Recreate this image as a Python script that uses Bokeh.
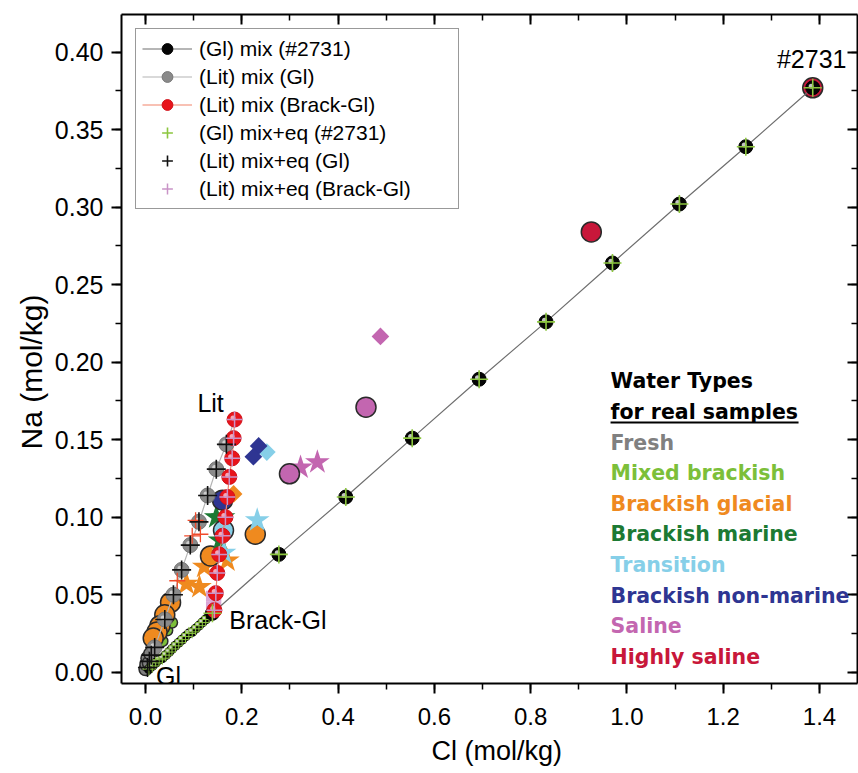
import math
from bokeh.plotting import figure
from bokeh.models import (Range1d, LinearAxis, SingleIntervalTicker, NumeralTickFormatter,
                          Legend, LegendItem, Label, Title)
from bokeh.embed import file_html
from bokeh.resources import INLINE

# ---------------- model mixing lines ----------------
# glacial end-member and sample #2731
gl_end = [0.001, 0.001]
s2731 = [1.386, 0.377]

# (Gl) mix (#2731): fine steps near Gl, then 10 % steps up to #2731
gl_fine_cl = [0.007, 0.014, 0.021, 0.028, 0.035, 0.042, 0.049, 0.055, 0.062, 0.069,
              0.076, 0.083, 0.090, 0.097, 0.104, 0.111, 0.118, 0.125, 0.132]
gl_fine_na = [0.002, 0.004, 0.006, 0.008, 0.009, 0.011, 0.013, 0.015, 0.017, 0.019,
              0.021, 0.023, 0.025, 0.026, 0.028, 0.030, 0.032, 0.034, 0.036]
gl_mix_cl = [0.139, 0.277, 0.416, 0.554, 0.693, 0.832, 0.970, 1.109, 1.247, 1.386]
gl_mix_na = [0.038, 0.076, 0.113, 0.151, 0.189, 0.226, 0.264, 0.302, 0.339, 0.377]
# (Gl) mix+eq (#2731)
gl_eq_fine_cl = [0.007, 0.014, 0.021, 0.028, 0.035, 0.042, 0.049, 0.055, 0.062, 0.069,
                 0.076, 0.083, 0.090, 0.097, 0.104, 0.111, 0.118, 0.125, 0.132]
gl_eq_fine_na = [0.002, 0.004, 0.006, 0.008, 0.009, 0.011, 0.013, 0.015, 0.017, 0.019,
                 0.021, 0.023, 0.025, 0.026, 0.028, 0.030, 0.032, 0.034, 0.036]
gl_eq_cl = [0.139, 0.277, 0.416, 0.554, 0.693, 0.832, 0.970, 1.109, 1.247, 1.386]
gl_eq_na = [0.038, 0.076, 0.113, 0.151, 0.189, 0.226, 0.264, 0.302, 0.339, 0.377]

# Littorina end-member
lit_end = [0.185, 0.163]
# (Lit) mix (Gl)
lit_gl_cl = [0.019, 0.040, 0.058, 0.075, 0.093, 0.111, 0.129, 0.147, 0.168]
lit_gl_na = [0.016, 0.034, 0.050, 0.066, 0.082, 0.097, 0.114, 0.131, 0.147]
# (Lit) mix+eq (Gl)
lit_gl_eq_cl = [0.004, 0.008, 0.012, 0.019, 0.040, 0.058, 0.075, 0.093, 0.111, 0.129, 0.147, 0.168]
lit_gl_eq_na = [0.003, 0.007, 0.011, 0.016, 0.034, 0.050, 0.066, 0.082, 0.097, 0.114, 0.131, 0.147]

# (Lit) mix (Brack-Gl), from Lit down to the brackish glacial end-member
lit_bg_cl = [0.185, 0.183, 0.180, 0.174, 0.170, 0.166, 0.160, 0.153, 0.149, 0.146, 0.143]
lit_bg_na = [0.163, 0.151, 0.138, 0.126, 0.113, 0.100, 0.088, 0.076, 0.064, 0.051, 0.040]
# (Lit) mix+eq (Brack-Gl)
lit_bg_eq_cl = [0.185, 0.183, 0.180, 0.174, 0.170, 0.166, 0.160, 0.153, 0.149, 0.146, 0.143]
lit_bg_eq_na = [0.163, 0.151, 0.138, 0.126, 0.113, 0.100, 0.088, 0.076, 0.064, 0.051, 0.040]
# a few orange-red equilibrium points off the Lit lines
red_eq_cl = [0.104, 0.114, 0.097, 0.066]
red_eq_na = [0.098, 0.089, 0.088, 0.059]

# ---------------- real samples by water type ----------------
fresh_cl = [0.000, 0.002, 0.004, 0.007, 0.010]
fresh_na = [0.002, 0.005, 0.009, 0.006, 0.012]

mixed_cl = [0.035, 0.045, 0.055]
mixed_na = [0.020, 0.027, 0.032]

bglac_circle_cl = [0.228, 0.135, 0.052, 0.040, 0.030, 0.024, 0.016]
bglac_circle_na = [0.089, 0.075, 0.045, 0.037, 0.030, 0.026, 0.022]
bglac_star_cl = [0.085, 0.112, 0.122, 0.170]
bglac_star_na = [0.057, 0.055, 0.068, 0.072]
bglac_diam_cl = [0.183]
bglac_diam_na = [0.115]

bmar_star_cl = [0.147, 0.161, 0.155]
bmar_star_na = [0.100, 0.100, 0.085]

trans_circle_cl = [0.162]
trans_circle_na = [0.0915]
trans_star_cl = [0.232, 0.163]
trans_star_na = [0.098, 0.077]
trans_diam_cl = [0.252]
trans_diam_na = [0.142]

bnm_diam_cl = [0.235, 0.224]
bnm_diam_na = [0.146, 0.139]
bnm_circle_cl = [0.160]
bnm_circle_na = [0.111]

sal_circle_cl = [0.299, 0.458]
sal_circle_na = [0.128, 0.171]
sal_star_cl = [0.322, 0.357]
sal_star_na = [0.132, 0.1355]
sal_diam_cl = [0.488]
sal_diam_na = [0.2166]
sal_sq_cl = [0.137, 0.146, 0.137, 0.146]
sal_sq_na = [0.049, 0.049, 0.042, 0.042]

hsal_cl = [0.926, 1.386]
hsal_na = [0.284, 0.377]

water_types = ["Fresh", "Mixed brackish", "Brackish glacial", "Brackish marine",
               "Transition", "Brackish non-marine", "Saline", "Highly saline"]
water_colors = ["#808080", "#7cbf3a", "#ef8a1f", "#1c7a33",
                "#86cfe8", "#2e3592", "#c366b0", "#c8173a"]

# ---------------- figure ----------------
W, H = 858, 773
BL, BR, BT, BB = 121, 1, 14, 90
X0, X1 = -0.0499, 1.479
Y0, Y1 = -0.0073, 0.4243
px_x = (W - BL - BR) / (X1 - X0)
px_y = (H - BT - BB) / (Y1 - Y0)

FONT = "Liberation Sans"

p = figure(width=W, height=H, x_range=Range1d(X0, X1), y_range=Range1d(Y0, Y1),
           output_backend="svg", toolbar_location=None,
           min_border_left=BL, min_border_right=BR, min_border_top=BT, min_border_bottom=BB)
p.outline_line_color = None
p.grid.visible = False
p.background_fill_color = "white"
p.border_fill_color = "white"

xt = SingleIntervalTicker(interval=0.2, num_minor_ticks=2)
yt = SingleIntervalTicker(interval=0.05, num_minor_ticks=2)


def style_axis(ax, inner):
    ax.axis_line_width = 2
    ax.axis_line_color = "black"
    ax.major_tick_line_width = 2
    ax.minor_tick_line_width = 1.5
    ax.major_tick_line_color = "black"
    ax.minor_tick_line_color = "black"
    if inner:
        # mirrored frame: ticks only, pointing into the plot
        ax.major_tick_in, ax.major_tick_out = 10, 0
        ax.minor_tick_in, ax.minor_tick_out = 6, 0
        ax.major_label_text_font_size = "1px"
        ax.major_label_text_color = None
        ax.major_label_standoff = 0
    else:
        ax.major_tick_in, ax.major_tick_out = 0, 10
        ax.minor_tick_in, ax.minor_tick_out = 0, 6
        ax.major_label_text_font = FONT
        ax.major_label_text_color = "black"


xa = p.xaxis[0]
xa.ticker = xt
xa.formatter = NumeralTickFormatter(format="0.0")
style_axis(xa, False)
xa.major_label_text_font_size = "24px"
xa.major_label_standoff = 14

ya = p.yaxis[0]
ya.ticker = yt
ya.formatter = NumeralTickFormatter(format="0.00")
style_axis(ya, False)
ya.major_label_text_font_size = "25px"
ya.major_label_standoff = 8

top = LinearAxis(ticker=SingleIntervalTicker(interval=0.2, num_minor_ticks=2))
style_axis(top, True)
p.add_layout(top, "above")
right = LinearAxis(ticker=SingleIntervalTicker(interval=0.05, num_minor_ticks=2))
style_axis(right, True)
p.add_layout(right, "right")

# axis titles, each set slightly off the frame centre
p.add_layout(Title(text="Cl (mol/kg)", align="left", offset=310, vertical_align="bottom",
                   text_font=FONT, text_font_size="27px", text_font_style="normal",
                   text_color="black", standoff=12), "below")
p.add_layout(Title(text="Na (mol/kg)", align="left", offset=234, vertical_align="middle",
                   text_font=FONT, text_font_size="30px", text_font_style="normal",
                   text_color="black", standoff=6), "left")

# ---------------- real samples (drawn underneath the model) ----------------
OUT = "#2a2a2a"


def circles(xs, ys, color, size=20):
    p.scatter(xs, ys, marker="circle", size=size, fill_color=color,
              line_color=OUT, line_width=1.5)


def stars(xs, ys, color, size=26):
    p.scatter(xs, ys, marker="star", size=size, fill_color=color, line_color=None)


def diamonds(xs, ys, color, size=12.5):
    p.scatter(xs, ys, marker="square", angle=math.pi / 4, size=size,
              fill_color=color, line_color=None)


circles(fresh_cl, fresh_na, water_colors[0], size=13)
circles(mixed_cl, mixed_na, water_colors[1], size=11)
stars(bglac_star_cl, bglac_star_na, water_colors[2])
circles(bglac_circle_cl, bglac_circle_na, water_colors[2])
diamonds(bglac_diam_cl, bglac_diam_na, water_colors[2])
stars(bmar_star_cl, bmar_star_na, water_colors[3])
stars(trans_star_cl, trans_star_na, water_colors[4])
circles(trans_circle_cl, trans_circle_na, water_colors[4])
diamonds(trans_diam_cl, trans_diam_na, water_colors[4])
diamonds(bnm_diam_cl, bnm_diam_na, water_colors[5])
circles(bnm_circle_cl, bnm_circle_na, water_colors[5])
stars(sal_star_cl, sal_star_na, water_colors[6])
circles(sal_circle_cl, sal_circle_na, water_colors[6])
diamonds(sal_diam_cl, sal_diam_na, water_colors[6])
p.scatter(sal_sq_cl, sal_sq_na, marker="square", size=11, fill_color="#d9a6d6", line_color=None)
circles(hsal_cl, hsal_na, water_colors[7])

# ---------------- model lines and spheres ----------------
line_gl = p.line([gl_end[0]] + gl_fine_cl + gl_mix_cl, [gl_end[1]] + gl_fine_na + gl_mix_na,
                 line_color="#6e6e6e", line_width=1.2)
line_lg = p.line([gl_end[0]] + lit_gl_cl + [lit_end[0]], [gl_end[1]] + lit_gl_na + [lit_end[1]],
                 line_color="#b4b4b4", line_width=1.2)
line_lb = p.line(lit_bg_cl, lit_bg_na, line_color="#f2836b", line_width=1.2)


def highlight(xs, ys, size, color):
    # small off-centre glint that gives the balls their shaded look
    hx = [x - 1.6 / px_x for x in xs]
    hy = [y + 1.6 / px_y for y in ys]
    p.scatter(hx, hy, marker="circle", size=size, fill_color=color, line_color=None, fill_alpha=0.9)


# dense run of small balls near Gl, with thin crosses on top
p.scatter(gl_fine_cl, gl_fine_na, marker="circle", size=10, fill_color="#050505", line_color=None)
highlight(gl_fine_cl, gl_fine_na, 3.5, "#e8e8e8")
p.scatter(gl_eq_fine_cl, gl_eq_fine_na, marker="cross", size=13, line_color="#8cc63f", line_width=1.0)

sph_gl = p.scatter(gl_mix_cl, gl_mix_na, marker="circle", size=14, fill_color="#050505",
                   line_color="#000000", line_width=1)
highlight(gl_mix_cl, gl_mix_na, 5, "#d8d8d8")

sph_lg = p.scatter(lit_gl_cl, lit_gl_na, marker="circle", size=15, fill_color="#8a8a8a",
                   line_color="#777777", line_width=1)
highlight(lit_gl_cl, lit_gl_na, 5, "#d5d5d5")

p.scatter(red_eq_cl, red_eq_na, marker="cross", size=16, line_color="#f04a2a", line_width=1.3)

sph_lb = p.scatter(lit_bg_cl, lit_bg_na, marker="circle", size=15, fill_color="#e8141b",
                   line_color="#d01018", line_width=1)
highlight(lit_bg_cl, lit_bg_na, 5, "#f6b8c8")

x_gl = p.scatter(gl_eq_cl, gl_eq_na, marker="cross", size=18, line_color="#8cc63f", line_width=1.6)
x_lg = p.scatter(lit_gl_eq_cl, lit_gl_eq_na, marker="cross", size=19, line_color="#111111", line_width=1.6)
x_lb = p.scatter(lit_bg_eq_cl, lit_bg_eq_na, marker="cross", size=16, line_color="#c994c7", line_width=1.5)

# ---------------- point labels ----------------
LBL = dict(text_font=FONT, text_font_size="25px", text_color="black")
p.add_layout(Label(x=s2731[0], y=s2731[1], text="#2731", x_offset=-1, y_offset=15,
                   text_align="center", text_baseline="bottom", **LBL))
p.add_layout(Label(x=lit_end[0], y=lit_end[1], text="Lit", x_offset=-24, y_offset=17,
                   text_align="center", text_baseline="middle", **LBL))
p.add_layout(Label(x=lit_bg_cl[-1], y=lit_bg_na[-1], text="Brack-Gl", x_offset=15, y_offset=-10,
                   text_align="left", text_baseline="middle", **LBL))
p.add_layout(Label(x=gl_end[0], y=gl_end[1], text="Gl", x_offset=10, y_offset=-5,
                   text_align="left", text_baseline="middle", **LBL))

# ---------------- water type key ----------------
key_x = 0.966
key_y0 = 0.1876
key_dy = 30.6 / px_y
KEY = dict(text_font="DejaVu Sans", text_font_size="20.5px", text_font_style="bold",
           text_align="left", text_baseline="middle")
p.add_layout(Label(x=key_x, y=key_y0, text="Water Types", text_color="black", **KEY))
p.add_layout(Label(x=key_x, y=key_y0 - key_dy, text="for real samples", text_color="black", **KEY))
ul_y = key_y0 - key_dy - 10.5 / px_y
p.segment(x0=[key_x], y0=[ul_y], x1=[key_x + 188 / px_x], y1=[ul_y], line_color="black", line_width=2)
for i, (name, col) in enumerate(zip(water_types, water_colors)):
    p.add_layout(Label(x=key_x, y=key_y0 - (i + 2) * key_dy, text=name, text_color=col, **KEY))

# ---------------- legend ----------------
legend = Legend(items=[
    LegendItem(label="(Gl) mix (#2731)", renderers=[line_gl, sph_gl]),
    LegendItem(label="(Lit) mix (Gl)", renderers=[line_lg, sph_lg]),
    LegendItem(label="(Lit) mix (Brack-Gl)", renderers=[line_lb, sph_lb]),
    LegendItem(label="(Gl) mix+eq (#2731)", renderers=[x_gl]),
    LegendItem(label="(Lit) mix+eq (Gl)", renderers=[x_lg]),
    LegendItem(label="(Lit) mix+eq (Brack-Gl)", renderers=[x_lb]),
], location="top_left")
legend.margin = 14
legend.padding = 6
legend.spacing = 1
legend.glyph_width = 50
legend.glyph_height = 27
legend.label_height = 27
legend.label_standoff = 7
legend.label_width = 253
legend.label_text_font = FONT
legend.label_text_font_size = "21px"
legend.label_text_color = "black"
legend.border_line_color = "#333333"
legend.border_line_width = 1
legend.background_fill_alpha = 1
p.add_layout(legend, "center")

open("out.html", "w").write(file_html(p, INLINE))
